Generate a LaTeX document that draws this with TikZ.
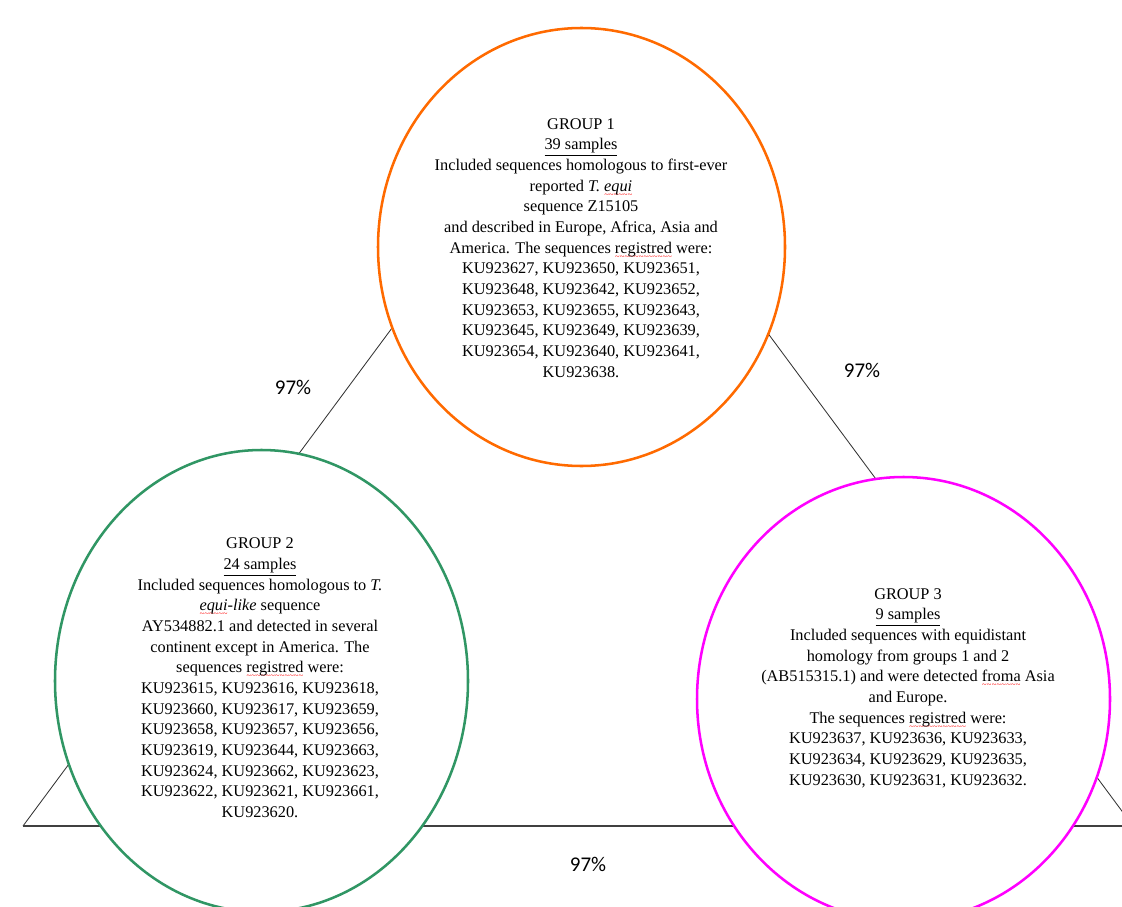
\documentclass[tikz,border=0pt]{standalone}
\usepackage{fontspec}
\setmainfont{Liberation Serif}
\newfontfamily\calibrifont{Carlito}
\usepackage{tikz}
\usepackage{xcolor}
\definecolor{grporange}{RGB}{255,106,0}
\definecolor{grpgreen}{RGB}{48,150,100}
\definecolor{grpmagenta}{RGB}{255,0,255}
% red spell-check wave under a word
\newcommand\spellwave[1]{\setbox0\hbox{#1}\dimen0=\wd0\relax\rlap{\lower4.2pt\hbox to\dimen0{\color{red}\fontsize{6}{6}\selectfont\xleaders\hbox{\char`\~}\hfil}}\box0\relax}

\begin{document}
\begin{tikzpicture}[x=0.025cm, y=-0.025cm,
    grouptext/.style={align=center, inner sep=0pt, font=\fontsize{11.6}{14.7}\selectfont},
    pct/.style={inner sep=0pt, font=\calibrifont\fontsize{14.9}{18}\selectfont},
    sideline/.style={black!80, line width=0.6pt},
    baseline/.style={black!75, line width=1.2pt}]
    \useasboundingbox (0,0) rectangle (1122,906);
    \clip (0,0) rectangle (1122,906);

    % Triangle behind the groups
    \coordinate (ttop) at (578,77);
    \coordinate (tleft) at (23,826);
    \coordinate (tright) at (1133,826);
    \draw[sideline] (tleft) -- (ttop) -- (tright);
    \draw[baseline] (tleft) -- (tright);

    % Group circles
    \coordinate (c1) at (581.5,247);
    \coordinate (c2) at (261.5,681);
    \coordinate (c3) at (903.5,699);
    \foreach \c/\col/\rx/\ry in {c1/grporange/203.5/219, c2/grpgreen/206.5/231, c3/grpmagenta/206.5/222}
        \draw[\col, line width=1.8pt, fill=white] (\c) ellipse [x radius=\rx, y radius=\ry];

    % Group texts
    \node[grouptext] (g1) at (581,248) {GROUP 1\\ \underline{39 samples}\\
        Included sequences homologous to first-ever\\
        reported \textit{T. \spellwave{equi}}\\
        sequence Z15105\\
        and described in Europe, Africa, Asia and\\
        America. The sequences \spellwave{registred} were:\\
        KU923627, KU923650, KU923651,\\
        KU923648, KU923642, KU923652,\\
        KU923653, KU923655, KU923643,\\
        KU923645, KU923649, KU923639,\\
        KU923654, KU923640, KU923641,\\
        KU923638.};
    \node[grouptext] (g2) at (260,678) {GROUP 2\\ \underline{24 samples}\\
        Included sequences homologous to \textit{T.}\\
        \textit{\spellwave{equi}-like} sequence\\
        AY534882.1 and detected in several\\
        continent except in America. The\\
        sequences \spellwave{registred} were:\\
        KU923615, KU923616, KU923618,\\
        KU923660, KU923617, KU923659,\\
        KU923658, KU923657, KU923656,\\
        KU923619, KU923644, KU923663,\\
        KU923624, KU923662, KU923623,\\
        KU923622, KU923621, KU923661,\\
        KU923620.};
    \node[grouptext] (g3) at (908,688) {GROUP 3\\ \underline{9 samples}\\
        Included sequences with equidistant\\
        homology from groups 1 and 2\\
        (AB515315.1) and were detected \spellwave{froma} Asia\\
        and Europe.\\
        The sequences \spellwave{registred} were:\\
        KU923637, KU923636, KU923633,\\
        KU923634, KU923629, KU923635,\\
        KU923630, KU923631, KU923632.};

    % Homology labels
    \node[pct] (p12) at (293,387) {97\%};
    \node[pct] (p13) at (862,370) {97\%};
    \node[pct] (p23) at (588,864) {97\%};
\end{tikzpicture}
\end{document}
